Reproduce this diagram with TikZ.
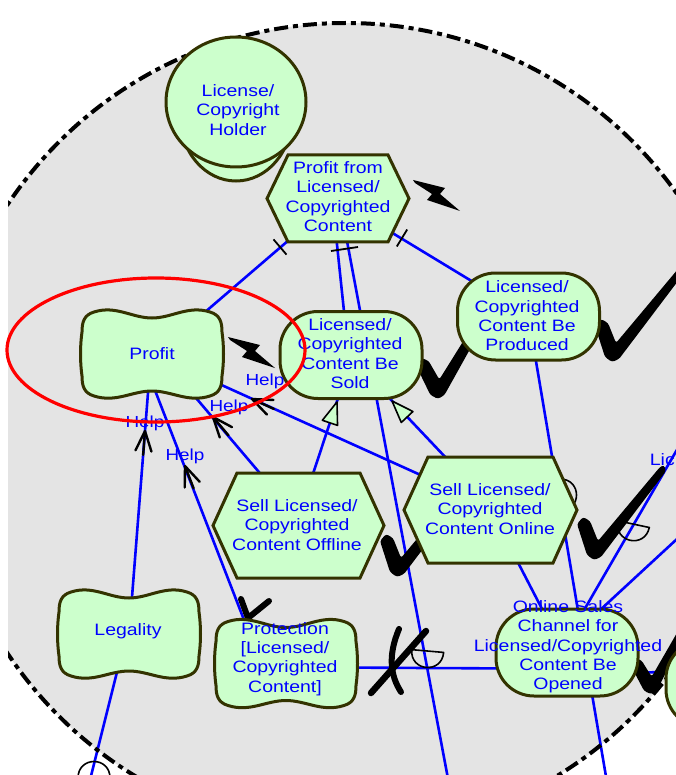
\documentclass[tikz,border=0pt]{standalone}
\usepackage{fontspec}
\newfontfamily\labfont[FakeStretch=1.18]{Liberation Sans}
\usetikzlibrary{calc}

\definecolor{bgcirc}{RGB}{228,228,228}
\definecolor{ifill}{RGB}{204,255,204}
\definecolor{iedge}{RGB}{51,51,0}
\definecolor{ilink}{RGB}{0,0,255}
\definecolor{itext}{RGB}{0,0,255}

% goal: rounded box
\newcommand\goalshape[1]{%
  \filldraw[shapeline, rounded corners=38pt] ([shift={(-71,-43.5)}]#1.center) rectangle ([shift={(71,43.5)}]#1.center);}
% task: hexagon (name, half width, half height, inset)
\newcommand\hexshape[4]{%
  \begin{scope}[shift={(#1.center)}]
    \filldraw[shapeline] (-#2,0) -- (-#2+#4,-#3) -- (#2-#4,-#3) -- (#2,0) -- (#2-#4,#3) -- (-#2+#4,#3) -- cycle;
  \end{scope}}
% softgoal: pillow outline
\newcommand\softshape[1]{%
  \begin{scope}[shift={(#1.center)}]
    \filldraw[shapeline] (-58,-42) .. controls (-36,-49) and (-20,-36) .. (0,-36)
      .. controls (20,-36) and (36,-49) .. (58,-42)
      .. controls (68,-39) and (70,-32) .. (70,-22)
      .. controls (72,-8) and (72,8) .. (70,22)
      .. controls (70,32) and (68,39) .. (58,42)
      .. controls (36,49) and (20,37) .. (0,37)
      .. controls (-20,37) and (-36,49) .. (-58,42)
      .. controls (-68,39) and (-70,32) .. (-70,22)
      .. controls (-72,8) and (-72,-8) .. (-70,-22)
      .. controls (-70,-32) and (-68,-39) .. (-58,-42) -- cycle;
  \end{scope}}

\begin{document}
\begin{tikzpicture}[x=1pt,y=-1pt,
  spot/.style={inner sep=0pt, outer sep=0pt, minimum size=0pt},
  shapeline/.style={draw=iedge, line width=3pt, fill=ifill},
  txt/.style={inner sep=0pt, align=center, text=itext,
    font=\labfont\fontsize{16.5pt}{19.3pt}\selectfont},
  helptxt/.style={inner sep=0pt, text=itext,
    font=\labfont\fontsize{16pt}{18pt}\selectfont},
  link/.style={draw=ilink, line width=2.6pt},
  tickmark/.style={draw=black, line width=1.8pt},
  helptip/.pic={
    \draw[black, line width=2.4pt, line cap=round, line join=round] (-20,-8) -- (0,0) -- (-20,8);
    \draw[black, line width=2.4pt, line cap=round] (-2,0) -- (-24,0);},
  meanstip/.pic={
    \filldraw[fill=ifill, draw=black, line width=1.6pt, line join=round] (0,0) -- (-22,-8) -- (-22,8) -- cycle;},
  depmark/.pic={
    \draw[black, line width=1.6pt, line join=round] (-16,-8) -- (16,-8) .. controls (16,14) and (-16,14) .. cycle;},
  okmark/.pic={
    \fill[black, rounded corners=2.5pt] (-17,-29) -- (-11,-36) -- (-4,-32) -- (4,-12) -- (66,-86)
      -- (70,-88) -- (72,-82) -- (7,4) -- (0,7) -- (-7,2) -- cycle;},
  boltmark/.pic={
    \fill[black] (0,0) -- (32,8) -- (27,14) -- (47,31) -- (14,20) -- (19,14) -- (2,3) -- cycle;}
]
\useasboundingbox (0,0) rectangle (676,775);
\clip (0,0) rectangle (676,775);
\fill[white] (0,0) rectangle (676,775);

% boundary area
\begin{scope}
  \clip (8,0) rectangle (676,775);
  \fill[bgcirc] (346,429) circle[radius=406pt];
\end{scope}

% element positions
\node[spot] (holder) at (236,102) {};
\node[spot] (pfl) at (338,198.5) {};
\node[spot] (profit) at (152,354) {};
\node[spot] (sold) at (351,355) {};
\node[spot] (prod) at (528.5,316.5) {};
\node[spot] (offl) at (298.5,525.5) {};
\node[spot] (onl) at (490.5,510) {};
\node[spot] (legal) at (129,634) {};
\node[spot] (prot) at (286,663.5) {};
\node[spot] (chan) at (567,652.5) {};
\node[spot] (rnode) at (737,684) {};
\coordinate (offS) at (452,800);
\coordinate (offR1) at (700,410);
\coordinate (offR2) at (730,490);
\coordinate (offBL) at (85,800);
\coordinate (offB) at (610,800);

% links
\draw[link] ([shift={(-38,32)}]pfl.center) -- ([shift={(38,-29)}]profit.center);
\draw[link] ([shift={(-3,27)}]pfl.center) -- ([shift={(-4,-15)}]sold.center);
\draw[link] ([shift={(7,32)}]pfl.center) -- (offS);
\draw[link] ([shift={(47,30)}]pfl.center) -- ([shift={(-38,-24)}]prod.center);
\draw[link] ([shift={(-50,-26)}]onl.center) -- ([shift={(43,19)}]profit.center);
\draw[link] ([shift={(-29,-41)}]offl.center) -- ([shift={(33,31)}]profit.center);
\draw[link] ([shift={(2,-24)}]legal.center) -- ([shift={(-3,26)}]profit.center);
\draw[link] ([shift={(-34,-23)}]prot.center) -- ([shift={(-1,26)}]profit.center);
\draw[link] ([shift={(9,-35)}]offl.center) -- ([shift={(-7,25)}]sold.center);
\draw[link] ([shift={(-33,-40)}]onl.center) -- ([shift={(26,30)}]sold.center);
\draw[link] ([shift={(4,24)}]prod.center) -- ([shift={(14,-24)}]chan.center);
\draw[link] ([shift={(21,40)}]onl.center) -- ([shift={(-19,-32)}]chan.center);
\draw[link] ([shift={(11,-32)}]chan.center) -- (offR1);
\draw[link] ([shift={(25,-35)}]chan.center) -- (offR2);
\draw[link] ([shift={(50,4)}]prot.center) -- ([shift={(-50,16)}]chan.center);
\draw[link] ([shift={(-10,30)}]legal.center) -- (offBL);
\draw[link] ([shift={(23,30)}]chan.center) -- (offB);
\draw[link] ([shift={(60,20)}]chan.center) -- ([shift={(-50,-12)}]rnode.center);

% link ends
\draw[tickmark] (273.5,239.4) -- (286.5,254.6);
\draw[tickmark] (407.2,229.5) -- (396.8,246.5);
\draw[tickmark] (331,251) -- (358,247);
\pic[rotate=155.6] at (252,399) {helptip};
\pic[rotate=130.1] at (213,417) {helptip};
\pic[rotate=85.6] at (145,431) {helptip};
\pic[rotate=111.1] at (185,466) {helptip};
\pic[rotate=71.3] at (337,402) {meanstip};
\pic[rotate=133.4] at (392,401) {meanstip};
\pic[rotate=-5] at (427,659) {depmark};
\pic[rotate=-12] at (632,532) {depmark};
\pic[rotate=180] at (94,770) {depmark};
\pic[rotate=90] at (568,495) {depmark};

% evaluation marks under the elements
\pic[rotate=8] at (437,392) {okmark};
\pic at (612,355) {okmark};
\pic at (397,570) {okmark};
\pic at (594,553) {okmark};
\pic[rotate=10, scale=0.9] at (650,688) {okmark};
\draw[black, line width=6pt, line cap=round, line join=round] (241,599) -- (248,618) -- (269,601);
\draw[black, line width=6.5pt, line cap=round] (371,693) -- (426,631);
\draw[black, line width=6pt, line cap=round] (399,629) .. controls (388,655) and (390,675) .. (401,692);

% boundary line
\begin{scope}
  \clip (8,0) rectangle (676,775);
  \draw[black, line width=4pt, dash pattern=on 14pt off 5pt on 5pt off 5pt] (346,429) circle[radius=406pt];
\end{scope}

% actor
\filldraw[shapeline] (236,116) ellipse[x radius=56pt, y radius=65pt];
\filldraw[shapeline] (holder) ellipse[x radius=70pt, y radius=65pt];

% elements
\hexshape{pfl}{71}{43.5}{21}
\hexshape{offl}{85.5}{52.5}{24}
\hexshape{onl}{86.5}{53}{24}
\goalshape{sold}
\goalshape{prod}
\goalshape{chan}
\goalshape{rnode}
\softshape{profit}
\softshape{legal}
\softshape{prot}

% texts
\node[txt] (holder-t) at (238,110) {License/\\Copyright\\Holder};
\node[txt] (pfl-t) at (338,196.5) {Profit from\\Licensed/\\Copyrighted\\Content};
\node[txt] (profit-t) at (152,353.5) {Profit};
\node[txt] (sold-t) at (350,353.5) {Licensed/\\Copyrighted\\Content Be\\Sold};
\node[txt] (prod-t) at (527,316) {Licensed/\\Copyrighted\\Content Be\\Produced};
\node[txt] (offl-t) at (297,525) {Sell Licensed/\\Copyrighted\\Content Offline};
\node[txt] (onl-t) at (490,509) {Sell Licensed/\\Copyrighted\\Content Online};
\node[txt] (legal-t) at (128,631.5) {Legality};
\node[txt] (prot-t) at (285,659) {Protection\\{[}Licensed/\\Copyrighted\\Content{]}};
\node[txt] (chan-t) at (568,647) {Online Sales\\Channel for\\Licensed/Copyrighted\\Content Be\\Opened};
\node[txt, anchor=east] (lic) at (675,460) {Lic};
\node[helptxt] (h1) at (265,381) {Help};
\node[helptxt] (h2) at (229,407) {Help};
\node[helptxt] (h3) at (145,423) {Help};
\node[helptxt] (h4) at (185,456) {Help};

% evaluation marks on top
\pic at (413,180) {boltmark};
\pic at (228,337) {boltmark};

% highlight
\draw[red, line width=3.2pt] (156,350) ellipse[x radius=149pt, y radius=72pt];
\end{tikzpicture}
\end{document}
